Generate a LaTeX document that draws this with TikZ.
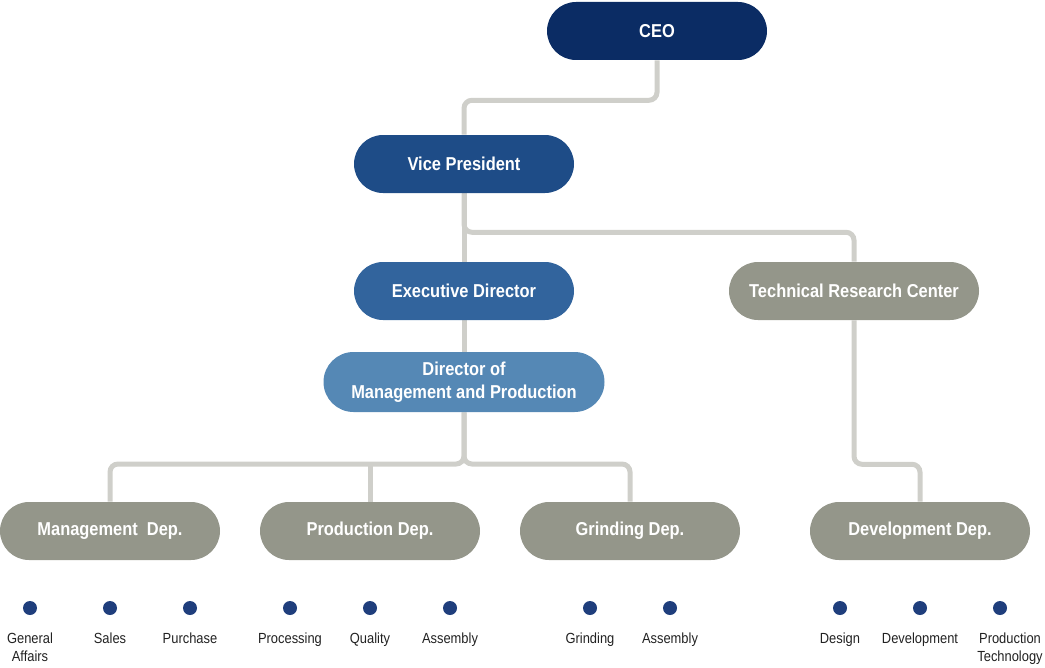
\documentclass[tikz,border=0pt]{standalone}
\usepackage{fontspec}
\setmainfont[FakeStretch=0.88]{Liberation Sans}
\usepackage{tikz}
\usetikzlibrary{backgrounds}

\definecolor{ceoblue}{RGB}{11,44,100}
\definecolor{vpblue}{RGB}{30,76,135}
\definecolor{edblue}{RGB}{50,100,157}
\definecolor{dirblue}{RGB}{85,136,181}
\definecolor{depgray}{RGB}{148,150,138}
\definecolor{linegray}{RGB}{207,207,202}
\definecolor{dotblue}{RGB}{31,62,124}
\definecolor{txtgray}{RGB}{34,34,34}

\begin{document}
\begin{tikzpicture}
	[x=0.75pt,y=-0.75pt,
	 box/.style={rectangle,rounded corners=21.75pt,minimum width=165pt,minimum height=43.5pt,
	   inner sep=0pt,text=white,font=\bfseries\fontsize{14}{17}\selectfont,align=center},
	 link/.style={draw=linegray,line width=3.75pt,rounded corners=6pt},
	 dot/.style={circle,fill=dotblue,minimum size=10.5pt,inner sep=0pt},
	 lbl/.style={text=txtgray,font=\fontsize{11}{13}\selectfont,align=center,inner sep=0pt,anchor=north}]
	\useasboundingbox (0,0) rectangle (1045,667);

	\coordinate (hub) at (464,464);

	  \node (ceo)[box,fill=ceoblue] at (657,31) {CEO};
	  \node (vp)[box,fill=vpblue] at (464,164) {Vice President};
	  \node (ed)[box,fill=edblue] at (464,291) {Executive Director};
	  \node (dmp)[box,fill=dirblue,minimum width=210.75pt,minimum height=45pt,rounded corners=22.5pt] at (464,382) {Director of\\Management and Production};
	  \node (trc)[box,fill=depgray,minimum width=187.5pt] at (854,291) {Technical Research Center};

	  \node (mgmt)[box,fill=depgray] at (110,531) {Management\ \ Dep.};
	  \node (prod)[box,fill=depgray] at (370,531) {Production Dep.};
	  \node (grind)[box,fill=depgray] at (630,531) {Grinding Dep.};
	  \node (dev)[box,fill=depgray] at (920,531) {Development Dep.};

	\begin{scope}[on background layer]
	\draw[link] (ceo.south) -- ++(0,40) -| (vp.north);
	\draw[link] (vp.south) -- (ed.north);
	\draw[link] (vp.south) -- ++(0,39) -| (trc.north);
	\draw[link] (ed.south) -- (dmp.north);
	\draw[link] (dmp.south) -- (hub) -| (mgmt.north);
	\draw[link] (dmp.south) -- (hub) -| (grind.north);
	\draw[link] (prod.north) -- (prod.north |- hub);
	\draw[link] (trc.south) -- ++(0,144) -| (dev.north);
	\end{scope}

	\foreach \x/\lx/\name/\text in {30/30/ga/{General\\Affairs},110/110/sa/Sales,190/190/pu/Purchase,
	    290/290/pr/Processing,370/370/qu/Quality,450/450/as/Assembly,
	    590/590/gr/Grinding,670/670/ag/Assembly,
	    840/840/de/Design,920/920/dv/Development,1000/1010/pt/{Production\\Technology}}
	  {
	  \node (d\name)[dot] at (\x,608) {};
	  \node (l\name)[lbl] at (\lx,633) {\text};
	  }

\end{tikzpicture}
\end{document}
